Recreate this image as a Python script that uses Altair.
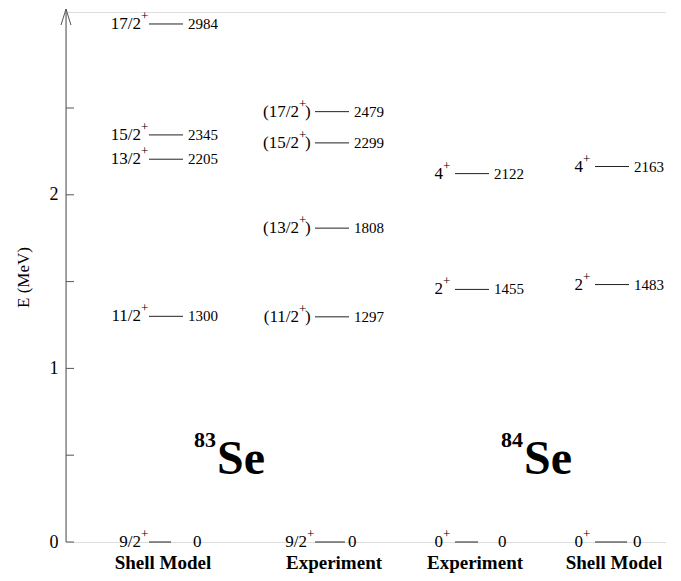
import altair as alt
import pandas as pd

# ---------------- data ----------------
panel_keys = ["sm83", "exp83", "exp84", "sm84"]
panel_names = ["Shell Model", "Experiment", "Experiment", "Shell Model"]
isotope_masses = ["83", "84"]
isotope_symbol = "Se"
parity = "+"

sm83_energy = [0, 1300, 2205, 2345, 2984]
sm83_spin = ["9/2", "11/2", "13/2", "15/2", "17/2"]
sm83_tentative = [False, False, False, False, False]

exp83_energy = [0, 1297, 1808, 2299, 2479]
exp83_spin = ["9/2", "11/2", "13/2", "15/2", "17/2"]
exp83_tentative = [False, True, True, True, True]

exp84_energy = [0, 1455, 2122]
exp84_spin = ["0", "2", "4"]
exp84_tentative = [False, False, False]

sm84_energy = [0, 1483, 2163]
sm84_spin = ["0", "2", "4"]
sm84_tentative = [False, False, False]

y_tick_values = [0, 0.5, 1, 1.5, 2, 2.5]
y_label_values = [0, 1, 2]

# ---------------- layout (plot-area pixels) ----------------
W, H = 600, 530
Y_MAX = 3.053
line_start = {"sm83": 83, "exp83": 249, "exp84": 389, "sm84": 529}
line_len = 34
ground_end = {"sm83": 105, "exp83": 279, "exp84": 412, "sm84": 561}
ground_label = {"sm83": 127, "exp83": 282, "exp84": 432, "sm84": 567}
spin_gap = {"sm83": 8, "exp83": 8, "exp84": 12, "sm84": 12}
panel_center = {"sm83": 97, "exp83": 268, "exp84": 409, "sm84": 548}
iso_x = [151, 458]

FONT = "Liberation Serif"
AX = "#555555"

rows = []
for key, en, sp, te in [
    ("sm83", sm83_energy, sm83_spin, sm83_tentative),
    ("exp83", exp83_energy, exp83_spin, exp83_tentative),
    ("exp84", exp84_energy, exp84_spin, exp84_tentative),
    ("sm84", sm84_energy, sm84_spin, sm84_tentative),
]:
    for e, s, t in zip(en, sp, te):
        ground = e == 0
        x0 = line_start[key]
        rows.append(dict(
            panel=key,
            energy=e,
            mev=e / 1000.0,
            spin=("(" if t else "") + s,
            tentative=t,
            ground=ground,
            par=parity,
            close=")" if t else "",
            elabel=str(e),
            x0=x0,
            x1=ground_end[key] if ground else x0 + line_len,
            xe=ground_label[key] if ground else x0 + 39,
            xs=x0 - (16 if t else spin_gap[key]),
        ))
levels = pd.DataFrame(rows)

panels = pd.DataFrame({"name": panel_names,
                       "x": [panel_center[k] for k in panel_keys]})
isotopes = pd.DataFrame({"mass": isotope_masses,
                         "sym": [isotope_symbol] * len(isotope_masses),
                         "x": iso_x})
ticks = pd.DataFrame({"mev": y_tick_values})

xscale = alt.Scale(domain=[0, W], nice=False, zero=False)
yscale = alt.Scale(domain=[0, Y_MAX], nice=False, zero=True)

yaxis = alt.Axis(
    values=y_label_values, format="d", ticks=False, tickSize=0,
    grid=False, domain=False,
    labelFont=FONT, labelFontSize=18, labelColor="black", labelPadding=8,
    title="E (MeV)", titleFont=FONT, titleFontSize=17,
    titleFontWeight="normal", titleColor="black", titlePadding=17,
)


def Y(field):
    return alt.Y(f"{field}:Q", scale=yscale, axis=yaxis)


BLACK = alt.value("black")
base = alt.Chart(levels)

lines = base.mark_rule(strokeWidth=1).encode(
    x=alt.X("x0:Q", scale=xscale, axis=None), x2="x1:Q", y=Y("mev"),
    color=alt.value("#222222"))

spin_main = base.mark_text(align="right", baseline="middle", font=FONT,
                           fontSize=17).encode(
    x=alt.X("xs:Q", scale=xscale, axis=None), y=Y("mev"), text="spin:N",
    color=BLACK)

spin_par = base.mark_text(align="left", baseline="middle", font=FONT,
                          fontSize=13, dy=-8).encode(
    x=alt.X("xs:Q", scale=xscale, axis=None), y=Y("mev"), text="par:N",
    color=BLACK)

spin_close = base.transform_filter("datum.tentative").mark_text(
    align="left", baseline="middle", font=FONT, fontSize=17, dx=6).encode(
    x=alt.X("xs:Q", scale=xscale, axis=None), y=Y("mev"), text="close:N",
    color=BLACK)

energy_lbl = base.mark_text(align="left", baseline="middle", font=FONT).encode(
    x=alt.X("xe:Q", scale=xscale, axis=None), y=Y("mev"), text="elabel:N",
    size=alt.condition("datum.ground", alt.value(17), alt.value(15)),
    color=BLACK)

axis_line = alt.Chart(pd.DataFrame({"mev": [0.0]})).mark_rule(
    strokeWidth=1).encode(
    x=alt.value(0), y=Y("mev"), y2=alt.value(-3), color=alt.value(AX))

tick_marks = alt.Chart(ticks).mark_rule(strokeWidth=1).encode(
    x=alt.value(0), x2=alt.value(8), y=Y("mev"), color=alt.value(AX))

arrow = alt.Chart(pd.DataFrame({"a": [1]})).mark_point(
    shape="M-0.62,1L0,-1L0.62,1", size=256, filled=False, opacity=1,
    strokeWidth=1).encode(x=alt.value(0), y=alt.value(5), color=alt.value(AX))

panel_lbl = alt.Chart(panels).mark_text(
    align="center", baseline="alphabetic", font=FONT, fontSize=19,
    fontWeight="bold").encode(
    x=alt.X("x:Q", scale=xscale, axis=None), y=alt.value(557), text="name:N",
    color=BLACK)

iso_sym = alt.Chart(isotopes).mark_text(
    align="left", baseline="alphabetic", font=FONT, fontSize=48,
    fontWeight="bold").encode(
    x=alt.X("x:Q", scale=xscale, axis=None), y=alt.value(462), text="sym:N",
    color=BLACK)

iso_mass = alt.Chart(isotopes).mark_text(
    align="right", baseline="alphabetic", font=FONT, fontSize=22,
    fontWeight="bold", dx=-1).encode(
    x=alt.X("x:Q", scale=xscale, axis=None), y=alt.value(435), text="mass:N",
    color=BLACK)

chart = alt.layer(
    axis_line, lines, tick_marks, arrow, spin_main, spin_par, spin_close,
    energy_lbl, panel_lbl, iso_sym, iso_mass,
).properties(
    width=W, height=H,
    autosize=alt.AutoSizeParams(type="none"),
    padding={"left": 58, "top": 4, "right": 0, "bottom": 32},
).configure_view(stroke=None).configure_axis(
    labelFont=FONT, labelFontSize=18, titleFont=FONT, titleFontSize=17,
    titleFontWeight="normal",
).configure(background="white")

chart.save("out.html", embed_options={"renderer": "svg", "actions": False})
